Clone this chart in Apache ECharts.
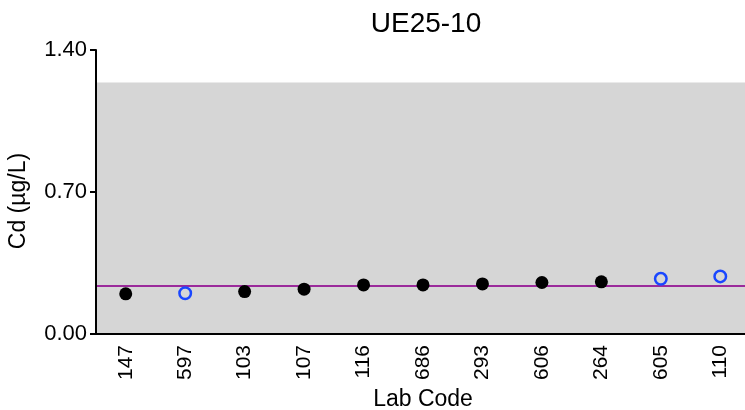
<!DOCTYPE html>
<html><head><meta charset="utf-8">
<script src="https://cdn.jsdelivr.net/npm/echarts@6/dist/echarts.min.js"></script>
<style>html,body{margin:0;padding:0;background:#fff}#c{width:745px;height:410px}</style>
</head><body><div id="c"></div>
<script>
const title = 'UE25-10';
const labCodes = ['147','597','103','107','116','686','293','606','264','605','110'];
const cdValues = [0.198,0.201,0.209,0.221,0.242,0.242,0.247,0.254,0.257,0.272,0.284];
const flaggedCodes = ['597','605','110'];
const assignedValue = 0.24;
const rangeLow = 0.00;
const rangeHigh = 1.24;
const yTicks = [0.00, 0.70, 1.40];

const black = labCodes.map((c,i)=> flaggedCodes.includes(c) ? null : cdValues[i]);
const blue = labCodes.map((c,i)=> flaggedCodes.includes(c) ? cdValues[i] : null);
const FONT = 'Liberation Sans, Arial, sans-serif';

const chart = echarts.init(document.getElementById('c'));
chart.setOption({
  animation:false,
  title:{text:title,left:421,textAlign:'center',top:5,textStyle:{fontFamily:FONT,fontSize:28,fontWeight:'normal',color:'#000'}},
  grid:{left:96,right:-5,top:50,bottom:76,containLabel:false,outerBoundsMode:'none'},
  xAxis:{type:'category',data:labCodes,boundaryGap:true,z:10,
    name:'Lab Code',nameLocation:'middle',nameGap:51,
    nameTextStyle:{fontFamily:FONT,fontSize:23,color:'#000'},
    axisLine:{lineStyle:{color:'#000',width:2}},
    axisTick:{alignWithLabel:true,length:6,lineStyle:{color:'#000',width:2}},
    axisLabel:{rotate:90,fontFamily:FONT,fontSize:21,color:'#000',margin:11}},
  yAxis:{type:'value',min:yTicks[0],max:yTicks[yTicks.length-1],interval:yTicks[1]-yTicks[0],z:10,
    name:'Cd (µg/L)',nameLocation:'middle',nameGap:66,
    nameTextStyle:{fontFamily:FONT,fontSize:23,color:'#000',padding:[0,18,0,0]},
    axisLine:{show:true,lineStyle:{color:'#000',width:2}},
    axisTick:{show:true,length:6,lineStyle:{color:'#000',width:2}},
    splitLine:{show:false},
    axisLabel:{fontFamily:FONT,fontSize:22,color:'#000',margin:9,formatter:v=>v.toFixed(2)}},
  series:[
    {type:'scatter',data:black,symbol:'circle',symbolSize:13,itemStyle:{color:'#000',opacity:1},z:5,
     markArea:{silent:true,itemStyle:{color:'#d6d6d6',opacity:1},data:[[{yAxis:rangeLow},{yAxis:rangeHigh}]]},
     markLine:{silent:true,symbol:'none',label:{show:false},lineStyle:{color:'#9b2a9b',width:2,type:'solid',opacity:1},data:[{yAxis:assignedValue}]}},
    {type:'scatter',data:blue,symbol:'circle',symbolSize:11.5,itemStyle:{color:'rgba(0,0,0,0)',borderColor:'#1a47ff',borderWidth:2.5,opacity:1},z:5}
  ]
});
</script></body></html>
